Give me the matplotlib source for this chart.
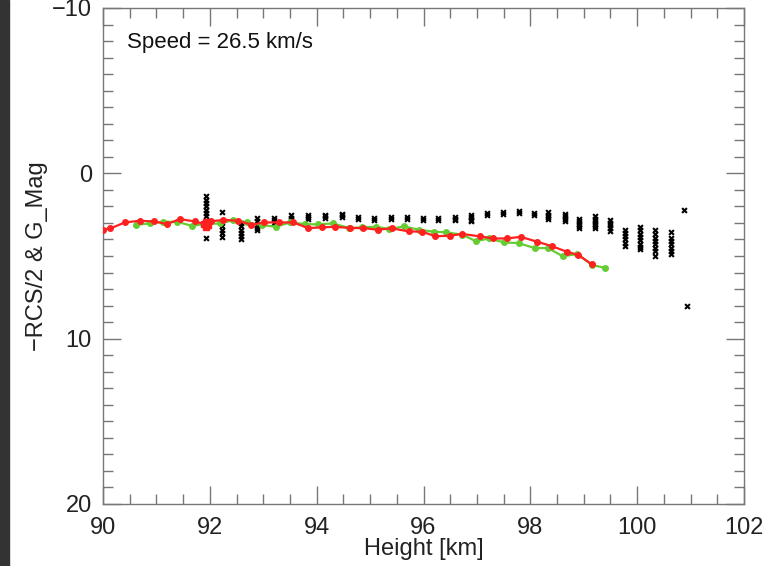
import numpy as np
import matplotlib.pyplot as plt
from matplotlib.patches import Rectangle
from matplotlib.ticker import MultipleLocator

# curva vermelha (-RCS/2)
red_x = [90.0, 90.14, 90.41, 90.69, 90.96, 91.20, 91.44, 91.72, 91.93, 92.02, 92.25,
         92.53, 92.78, 93.02, 93.30, 93.56, 93.84, 94.10, 94.34, 94.63, 94.87, 95.14,
         95.41, 95.72, 95.98, 96.22, 96.49, 96.73, 97.05, 97.30, 97.56, 97.82, 98.13,
         98.40, 98.68, 98.90, 99.15]
red_y = [3.40, 3.33, 2.97, 2.87, 2.91, 3.07, 2.77, 2.91, 3.11, 2.91, 2.81,
         2.87, 3.11, 2.97, 2.97, 2.97, 3.31, 3.27, 3.23, 3.31, 3.31, 3.41,
         3.33, 3.51, 3.53, 3.81, 3.77, 3.67, 3.81, 3.94, 3.94, 3.84, 4.14,
         4.40, 4.74, 4.94, 5.50]

# aglomerado vermelho em ~92 km
red_cl_x = [91.90, 91.93, 91.96, 91.93]
red_cl_y = [3.05, 2.95, 3.15, 3.25]

# curva verde (G_Mag)
green_x = [90.62, 90.88, 91.13, 91.38, 91.66, 91.91, 92.19, 92.44, 92.69, 92.97,
           93.24, 93.50, 93.78, 94.03, 94.30, 94.61, 94.84, 95.11, 95.36, 95.64,
           95.91, 96.19, 96.42, 96.73, 96.98, 97.23, 97.51, 97.78, 98.08, 98.33,
           98.61, 98.88, 99.15, 99.40]
green_y = [3.11, 3.03, 2.93, 2.93, 3.17, 3.07, 3.03, 2.83, 2.97, 3.13,
           3.23, 2.97, 3.07, 3.09, 3.03, 3.31, 3.27, 3.23, 3.37, 3.21,
           3.41, 3.53, 3.57, 3.71, 4.11, 3.94, 4.18, 4.22, 4.52, 4.52,
           5.02, 4.88, 5.54, 5.72]

# pontos pretos: altura de cada coluna e os valores medidos
col_h = [91.93, 92.22, 92.58, 92.89, 93.20, 93.52, 93.84, 94.16, 94.47, 94.78,
         95.08, 95.39, 95.69, 95.99, 96.28, 96.59, 96.89, 97.19, 97.48, 97.78,
         98.06, 98.34, 98.64, 98.92, 99.21, 99.49, 99.78, 100.06, 100.34, 100.63,
         100.88, 100.94]
col_v = [
    [1.4, 1.6, 1.8, 2.0, 2.2, 2.4, 2.6, 3.9],
    [2.35, 3.2, 3.4, 3.6, 3.85],
    [3.0, 3.2, 3.4, 3.6, 3.8, 4.0],
    [2.7, 2.9, 3.1, 3.3, 3.45],
    [2.7, 2.85, 3.0],
    [2.55, 2.7, 2.85],
    [2.55, 2.65, 2.75],
    [2.5, 2.6, 2.7],
    [2.45, 2.55, 2.65],
    [2.65, 2.75],
    [2.7, 2.8],
    [2.65, 2.75],
    [2.65, 2.75],
    [2.7, 2.8],
    [2.72, 2.82],
    [2.65, 2.75, 2.85],
    [2.5, 2.65, 2.8, 2.9],
    [2.4, 2.5],
    [2.35, 2.45],
    [2.3, 2.4],
    [2.4, 2.5],
    [2.35, 2.5, 2.65, 2.75],
    [2.45, 2.6, 2.75, 2.9],
    [2.75, 2.9, 3.05, 3.2, 3.3],
    [2.6, 2.75, 2.9, 3.05, 3.2, 3.3],
    [2.85, 3.0, 3.15, 3.3, 3.5],
    [3.4, 3.6, 3.8, 4.0, 4.2, 4.4],
    [3.25, 3.45, 3.65, 3.85, 4.05, 4.25, 4.45, 4.6],
    [3.45, 3.65, 3.9, 4.1, 4.3, 4.5, 4.7, 5.0],
    [3.55, 3.9, 4.1, 4.3, 4.5, 4.7, 4.85],
    [2.2],
    [8.0],
]

bx = np.concatenate([[h] * len(v) for h, v in zip(col_h, col_v)])
by = np.concatenate(col_v)

plt.rcParams['font.family'] = ['Liberation Sans', 'DejaVu Sans']

fig = plt.figure(figsize=(7.68, 5.66), dpi=100)
# faixa escura na borda esquerda
fig.patches.append(Rectangle((0, 0), 9 / 768, 1, transform=fig.transFigure,
                             color='#333333', zorder=0))
ax = fig.add_axes([103 / 768, 62 / 566, 641 / 768, 496 / 566])

ax.scatter(bx, by, marker='x', s=12, color='black', linewidths=1.5, zorder=2)
ax.plot(green_x, green_y, '-o', color='#66cc33', lw=1.6, ms=4, zorder=3)
ax.plot(red_x, red_y, '-o', color='#ff2020', lw=1.6, ms=4, zorder=4)
ax.plot(red_cl_x, red_cl_y, 's', color='#ff2020', ms=5, zorder=4)

ax.set_xlim(90, 102)
ax.set_ylim(20, -10)
ax.xaxis.set_major_locator(MultipleLocator(2))
ax.xaxis.set_minor_locator(MultipleLocator(0.5))
ax.yaxis.set_major_locator(MultipleLocator(10))
ax.yaxis.set_minor_locator(MultipleLocator(1))
ax.yaxis.set_major_formatter(plt.FuncFormatter(lambda v, p: f"{v:.0f}".replace('-', '\u2212')))

for s in ax.spines.values():
    s.set_color('#777777')
    s.set_linewidth(1.0)
ax.tick_params(which='both', direction='in', top=True, right=True,
               color='#777777', labelsize=17, labelcolor='#222222')
ax.tick_params(which='major', length=13, width=1.0)
ax.tick_params(axis='x', which='major', pad=9)
ax.tick_params(axis='y', which='major', pad=8)
ax.tick_params(which='minor', length=7, width=1.0)

ax.set_xlabel('Height [km]', fontsize=17, color='#222222', labelpad=0)
ax.set_ylabel('\u2212RCS/2 & G_Mag', fontsize=17, color='#222222', labelpad=3)
ax.text(0.038, 0.931, 'Speed = 26.5 km/s', transform=ax.transAxes,
        fontsize=16, color='#111111', va='center')

fig.savefig('out.png', dpi=100)
